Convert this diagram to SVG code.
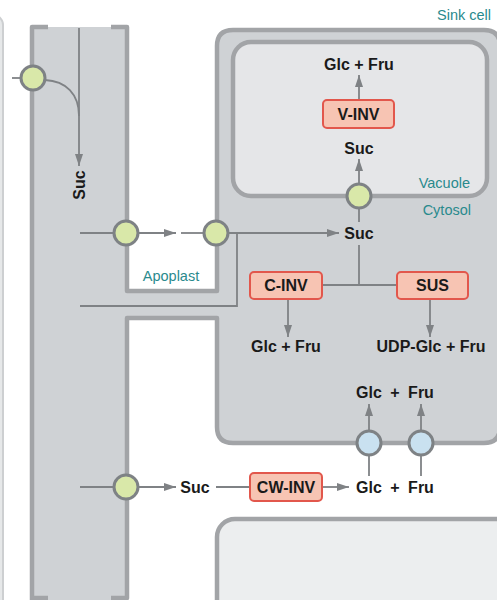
<svg xmlns="http://www.w3.org/2000/svg" width="497" height="600" viewBox="0 0 497 600">
<defs>
<marker id="ah" viewBox="0 0 12 8" refX="12" refY="4" markerWidth="12" markerHeight="8" markerUnits="userSpaceOnUse" orient="auto">
<path d="M0,0 L12,4 L0,8 Z" fill="#7f8285"/>
</marker>
<style>
.wall{fill:none;stroke:#a2a4a7;stroke-width:4.5;stroke-linejoin:round}
.ln{fill:none;stroke:#7f8285;stroke-width:1.8}
.arr{fill:none;stroke:#7f8285;stroke-width:1.8;marker-end:url(#ah)}
.t{font-family:"Liberation Sans",Arial,sans-serif;font-weight:bold;font-size:16px;fill:#1a1a1a;text-anchor:middle;dominant-baseline:central}
.lab{font-family:"Liberation Sans",Arial,sans-serif;font-size:14.5px;fill:#2a8a8d;dominant-baseline:central}
.enz{fill:#f7c4b3;stroke:#e2574c;stroke-width:2}
.gc{fill:#d9e8a9;stroke:#7e8285;stroke-width:3}
.bc{fill:#c9e1f0;stroke:#7e8285;stroke-width:3}
</style>
</defs>
<rect width="497" height="600" fill="#ffffff"/>

<g id="neighbor-cell">
<rect x="-30" y="15" width="33" height="620" rx="10" fill="#e6e8e9" stroke="#cdcfd1" stroke-width="2"/>
</g>

<g id="phloem-and-sink-cell">
<path d="M32,27 L127,27 L127,291 L217,291 L217,46 Q217,30 233,30 L484,30 Q500,30 500,46 L500,427 Q500,443 484,443 L233,443 Q217,443 217,427 L217,318 L127,318 L127,610 L32,610 Z" fill="#cfd2d5"/>
<path class="wall" d="M32,610 L32,27 L48,27"/>
<path class="wall" d="M111,27 L127,27 L127,291 L217,291 L217,46 Q217,30 233,30 L484,30 Q500,30 500,46 L500,427 Q500,443 484,443 L233,443 Q217,443 217,427 L217,318 L127,318 L127,598 L111,598"/>
<path class="wall" d="M32,598 L48,598"/>
</g>

<g id="vacuole">
<rect x="233" y="42" width="254" height="154" rx="18" class="wall" style="fill:#e5e6e8"/>
</g>

<g id="lower-cell">
<rect x="217" y="519" width="300" height="120" rx="18" class="wall" style="fill:#eceeef"/>
</g>

<g id="labels">
<text class="lab" x="491" y="15" text-anchor="end">Sink cell</text>
<text class="lab" x="470" y="183" text-anchor="end">Vacuole</text>
<text class="lab" x="471" y="210" text-anchor="end">Cytosol</text>
<text class="lab" x="171" y="276" text-anchor="middle">Apoplast</text>
</g>

<g id="connectors">
<line class="ln" x1="12" y1="78" x2="21" y2="78"/>
<path class="ln" d="M45,80 C66,81 79,94 79,116"/>
<line class="arr" x1="79" y1="28" x2="79" y2="166"/>
<line class="ln" x1="80" y1="233" x2="114" y2="233"/>
<line class="arr" x1="139" y1="233" x2="176" y2="233"/>
<line class="ln" x1="181" y1="233" x2="204" y2="233"/>
<line class="arr" x1="229" y1="233" x2="339" y2="233"/>
<polyline class="ln" points="237,233 237,306 80,306"/>
<line class="ln" x1="359" y1="208" x2="359" y2="222"/>
<line class="arr" x1="359" y1="184" x2="359" y2="159"/>
<line class="arr" x1="359" y1="100" x2="359" y2="75"/>
<line class="ln" x1="359" y1="245" x2="359" y2="285"/>
<line class="ln" x1="322" y1="285" x2="397" y2="285"/>
<line class="arr" x1="288" y1="299" x2="288" y2="337"/>
<line class="arr" x1="430" y1="299" x2="430" y2="337"/>
<line class="arr" x1="369" y1="430" x2="369" y2="404"/>
<line class="arr" x1="421" y1="430" x2="421" y2="404"/>
<line class="ln" x1="369" y1="456" x2="369" y2="476"/>
<line class="ln" x1="421" y1="456" x2="421" y2="476"/>
<line class="ln" x1="80" y1="487" x2="114" y2="487"/>
<line class="arr" x1="139" y1="487" x2="176" y2="487"/>
<line class="ln" x1="216" y1="487" x2="250" y2="487"/>
<line class="arr" x1="322" y1="487" x2="349" y2="487"/>
</g>

<g id="transporter-phloem-top"><circle class="gc" cx="33" cy="78" r="12"/></g>
<g id="transporter-phloem-mid"><circle class="gc" cx="126" cy="233" r="12"/></g>
<g id="transporter-sink-in"><circle class="gc" cx="216" cy="233" r="12"/></g>
<g id="transporter-vacuole"><circle class="gc" cx="359" cy="196" r="12"/></g>
<g id="transporter-phloem-low"><circle class="gc" cx="126" cy="487" r="12"/></g>
<g id="transporter-glc"><circle class="bc" cx="369" cy="443" r="12"/></g>
<g id="transporter-fru"><circle class="bc" cx="421" cy="443" r="12"/></g>

<g id="suc-phloem"><text class="t" transform="translate(79,185) rotate(-90)" x="0" y="0">Suc</text></g>
<g id="vinv"><rect class="enz" x="323" y="100" width="71" height="28" rx="4"/><text class="t" x="358.5" y="114">V-INV</text></g>
<g id="glcfru-vac"><text class="t" x="359" y="64">Glc + Fru</text></g>
<g id="suc-vac"><text class="t" x="359" y="148">Suc</text></g>
<g id="suc-cyt"><text class="t" x="359" y="233">Suc</text></g>
<g id="cinv"><rect class="enz" x="250" y="272" width="72" height="27" rx="4"/><text class="t" x="286" y="285.5">C-INV</text></g>
<g id="sus"><rect class="enz" x="397" y="272" width="71" height="27" rx="4"/><text class="t" x="432.5" y="285.5">SUS</text></g>
<g id="glcfru-cinv"><text class="t" x="286" y="346">Glc + Fru</text></g>
<g id="udp-glcfru"><text class="t" x="431" y="346">UDP-Glc + Fru</text></g>
<g id="glcfru-cyt-low"><text class="t" y="392"><tspan x="369">Glc</tspan><tspan x="395">+</tspan><tspan x="421">Fru</tspan></text></g>
<g id="suc-apo"><text class="t" x="195" y="487">Suc</text></g>
<g id="cwinv"><rect class="enz" x="250" y="473" width="72" height="28" rx="4"/><text class="t" x="286" y="487">CW-INV</text></g>
<g id="glcfru-apo"><text class="t" y="487"><tspan x="369">Glc</tspan><tspan x="395">+</tspan><tspan x="421">Fru</tspan></text></g>
</svg>
